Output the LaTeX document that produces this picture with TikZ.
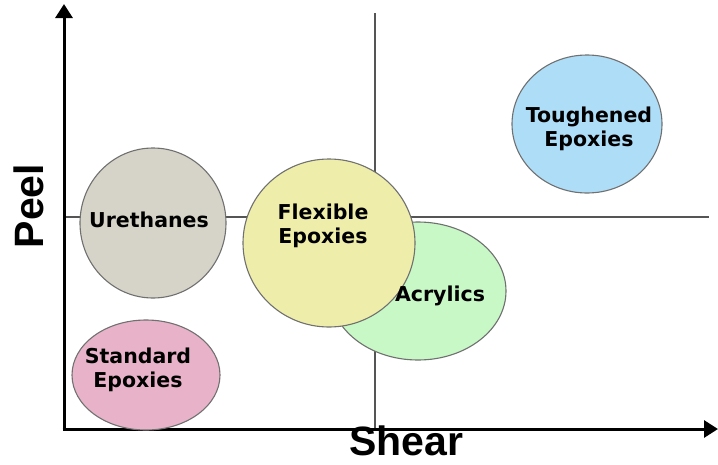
\documentclass[tikz,border=0pt]{standalone}
\usepackage{fontspec}
\setmainfont{DejaVu Sans}
\newfontfamily\axisfont{Liberation Sans}
\usetikzlibrary{shapes.geometric,arrows.meta}
\definecolor{urecol}{HTML}{D6D3C8}
\definecolor{flexcol}{HTML}{EFEDAA}
\definecolor{acrcol}{HTML}{C8F8C6}
\definecolor{toughcol}{HTML}{AEDDF8}
\definecolor{stdcol}{HTML}{E8B3C9}
\definecolor{gridcol}{HTML}{555555}
\definecolor{rimcol}{HTML}{707070}
\begin{document}
\begin{tikzpicture}[x=1pt,y=-1pt,
  blob/.style={ellipse, draw=rimcol, line width=1.1pt, inner sep=0pt},
  lbl/.style={font=\fontsize{20.5}{24.5}\selectfont\bfseries, align=center, text=black},
  axislbl/.style={font=\axisfont\fontsize{41}{41}\selectfont\bfseries, anchor=base, inner sep=0pt},
  axisline/.style={line width=3pt, -{Triangle[width=17pt,length=14pt]}},
  gridline/.style={draw=gridcol, line width=2pt}]
\useasboundingbox (0,0) rectangle (718,464);
% frame points
\coordinate (o) at (64,429);
\coordinate (ytop) at (64,4);
\coordinate (xend) at (718,429);
\coordinate (vtop) at (375,13);
\coordinate (vbot) at (375,429);
\coordinate (hleft) at (64,217);
\coordinate (hright) at (709,217);
% quadrant lines
\draw[gridline] (vtop) -- (vbot);
\draw[gridline] (hleft) -- (hright);
% axes
\draw[axisline] ([yshift=1.5pt]o) -- (ytop);
\draw[axisline] ([xshift=-1.5pt]o) -- (xend);
% ellipses
\node[blob, fill=urecol, minimum width=146pt, minimum height=150pt] (ure) at (153,223) {};
\node[blob, fill=toughcol, minimum width=150pt, minimum height=138pt] (tough) at (587,124) {};
\node[blob, fill=stdcol, minimum width=148pt, minimum height=110pt] (std) at (146,375) {};
\node[blob, fill=acrcol, minimum width=176pt, minimum height=138pt] (acr) at (418,291) {};
\node[blob, fill=flexcol, minimum width=172pt, minimum height=168pt] (flex) at (329,243) {};
% labels
\node[lbl] (urel) at (149,220) {Urethanes};
\node[lbl] (toughl) at (589,129) {Toughened\\Epoxies};
\node[lbl] (stdl) at (138,370) {Standard\\Epoxies};
\node[lbl] (acrl) at (440,296) {Acrylics};
\node[lbl] (flexl) at (323,226) {Flexible\\Epoxies};
% axis titles
\node[axislbl, rotate=90] (peel) at (43,206) {Peel};
\node[axislbl] (shear) at (406,455) {Shear};
\end{tikzpicture}
\end{document}
